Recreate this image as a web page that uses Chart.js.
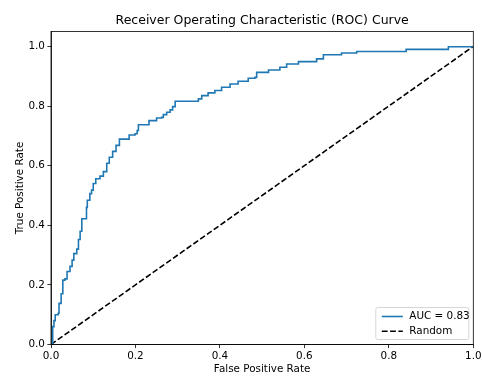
<!DOCTYPE html>
<html>
<head>
<meta charset="utf-8">
<script src="https://cdn.jsdelivr.net/npm/chart.js@4.4.1/dist/chart.umd.min.js"></script>
<style>
  html, body { margin: 0; padding: 0; background: #fff; }
  #wrap { width: 482px; height: 379px; }
</style>
</head>
<body>
<div id="wrap"><canvas id="roc" width="482" height="379"></canvas></div>
<script>
// ROC curve operating points (false positive rate, true positive rate)
const fprValues = [
  0.000, 0.004, 0.007, 0.010, 0.017, 0.019, 0.024, 0.028, 0.033, 0.038,
  0.045, 0.050, 0.054, 0.061, 0.065, 0.069, 0.073, 0.082, 0.084, 0.086,
  0.092, 0.096, 0.100, 0.106, 0.116, 0.124, 0.132, 0.138, 0.146, 0.154,
  0.162, 0.183, 0.185, 0.199, 0.204, 0.207, 0.230, 0.232, 0.246, 0.250,
  0.262, 0.266, 0.274, 0.282, 0.288, 0.294, 0.343, 0.349, 0.357, 0.372,
  0.388, 0.404, 0.424, 0.443, 0.467, 0.483, 0.487, 0.515, 0.542, 0.558,
  0.586, 0.629, 0.645, 0.684, 0.688, 0.724, 0.838, 0.841, 0.937, 0.941,
  1.000
];
const tprValues = [
  0.000, 0.060, 0.080, 0.100, 0.105, 0.138, 0.170, 0.216, 0.220, 0.245,
  0.262, 0.283, 0.305, 0.320, 0.352, 0.380, 0.422, 0.422, 0.460, 0.484,
  0.506, 0.518, 0.540, 0.556, 0.565, 0.580, 0.608, 0.628, 0.648, 0.668,
  0.689, 0.689, 0.703, 0.707, 0.718, 0.737, 0.737, 0.751, 0.751, 0.760,
  0.762, 0.771, 0.779, 0.787, 0.798, 0.816, 0.816, 0.824, 0.835, 0.844,
  0.852, 0.863, 0.874, 0.883, 0.893, 0.896, 0.913, 0.921, 0.930, 0.941,
  0.949, 0.958, 0.972, 0.972, 0.978, 0.983, 0.983, 0.990, 0.990, 0.999,
  1.000
];
const aucValue = 0.83;

// Chance-level diagonal
const randomX = [0, 1];
const randomY = [0, 1];

// Axis ticks
const xTicks = [0.0, 0.2, 0.4, 0.6, 0.8, 1.0];
const yTicks = [0.0, 0.2, 0.4, 0.6, 0.8, 1.0];

const FONT = "'DejaVu Sans', sans-serif";
const toPoints = (xs, ys) => xs.map((x, i) => ({ x: x, y: ys[i] }));

// Centre the title over the plotting area rather than the whole canvas
const titleOverPlot = {
  id: 'titleOverPlot',
  afterLayout(chart) {
    const t = chart.titleBlock;
    if (t) {
      t.left = chart.chartArea.left;
      t.right = chart.chartArea.right;
    }
  }
};

// Full frame around the plotting area
const frame = {
  id: 'frame',
  afterDatasetsDraw(chart) {
    const { ctx, chartArea: a } = chart;
    ctx.save();
    ctx.strokeStyle = '#000';
    ctx.lineWidth = 0.8;
    ctx.strokeRect(a.left, a.top, a.right - a.left, a.bottom - a.top);
    ctx.restore();
  }
};

// Legend box in the lower-right corner of the plot
const cornerLegend = {
  id: 'cornerLegend',
  afterDraw(chart) {
    const { ctx, chartArea: a } = chart;
    const w = 93, h = 32;
    const x0 = a.right - 5 - w, y0 = a.bottom - 5.5 - h;
    ctx.save();
    ctx.beginPath();
    ctx.roundRect(x0 + 0.5, y0 + 0.5, w, h, 2);
    ctx.fillStyle = 'rgba(255,255,255,0.8)';
    ctx.fill();
    ctx.strokeStyle = '#d6d6d6';
    ctx.lineWidth = 1;
    ctx.stroke();
    ctx.font = "10.4px " + FONT;
    ctx.textBaseline = 'middle';
    ctx.textAlign = 'left';
    chart.data.datasets.forEach((ds, i) => {
      const yy = y0 + 9.5 + i * 14.7;
      ctx.beginPath();
      ctx.setLineDash(ds.borderDash || []);
      ctx.strokeStyle = ds.borderColor;
      ctx.lineWidth = ds.borderWidth;
      ctx.moveTo(x0 + 6.5, yy);
      ctx.lineTo(x0 + 27.5, yy);
      ctx.stroke();
      ctx.setLineDash([]);
      ctx.fillStyle = '#000';
      ctx.fillText(ds.label, x0 + 34, yy);
    });
    ctx.restore();
  }
};

new Chart(document.getElementById('roc'), {
  type: 'line',
  data: {
    datasets: [
      {
        label: 'AUC = ' + aucValue.toFixed(2),
        data: toPoints(fprValues, tprValues),
        borderColor: '#1f77b4',
        borderWidth: 1.6,
        pointRadius: 0,
        tension: 0,
        stepped: 'before',
        fill: false
      },
      {
        label: 'Random',
        data: toPoints(randomX, randomY),
        borderColor: '#000000',
        borderWidth: 1.6,
        borderDash: [5.8, 2.5],
        pointRadius: 0,
        tension: 0,
        fill: false
      }
    ]
  },
  options: {
    responsive: false,
    animation: false,
    devicePixelRatio: 1,
    layout: { padding: { left: 0, right: 8.7, top: 0, bottom: 0 } },
    plugins: {
      legend: { display: false },
      tooltip: { enabled: false },
      title: {
        display: true,
        text: 'Receiver Operating Characteristic (ROC) Curve',
        color: '#000',
        font: { family: FONT, size: 12.5, weight: 'normal' },
        padding: { top: 13.5, bottom: 3 }
      }
    },
    scales: {
      x: {
        type: 'linear',
        min: 0,
        max: 1,
        afterFit(scale) {
          scale.height = 34.5;
          scale.paddingLeft = 0;
          scale.paddingRight = 0;
        },
        afterBuildTicks(scale) { scale.ticks = xTicks.map(v => ({ value: v })); },
        grid: { drawOnChartArea: false, drawTicks: true, tickLength: 3.6, color: '#000', lineWidth: 0.8 },
        border: { display: true, color: '#000', width: 0.8 },
        ticks: {
          color: '#000',
          padding: 2,
          maxRotation: 0,
          font: { family: FONT, size: 10.4 },
          callback: v => v.toFixed(1)
        },
        title: {
          display: true,
          text: 'False Positive Rate',
          color: '#000',
          font: { family: FONT, size: 10.4 },
          padding: { top: 0, bottom: 3.5 }
        }
      },
      y: {
        type: 'linear',
        min: 0,
        max: 1.05,
        afterFit(scale) {
          scale.width = 51;
          scale.paddingTop = 0;
          scale.paddingBottom = 0;
        },
        afterBuildTicks(scale) { scale.ticks = yTicks.map(v => ({ value: v })); },
        grid: { drawOnChartArea: false, drawTicks: true, tickLength: 3.6, color: '#000', lineWidth: 0.8 },
        border: { display: true, color: '#000', width: 0.8 },
        ticks: {
          color: '#000',
          padding: 2.5,
          font: { family: FONT, size: 10.4 },
          callback: v => v.toFixed(1)
        },
        title: {
          display: true,
          text: 'True Positive Rate',
          color: '#000',
          font: { family: FONT, size: 10.4 },
          padding: { top: 14, bottom: 0 }
        }
      }
    }
  },
  plugins: [titleOverPlot, frame, cornerLegend]
});
</script>
</body>
</html>
